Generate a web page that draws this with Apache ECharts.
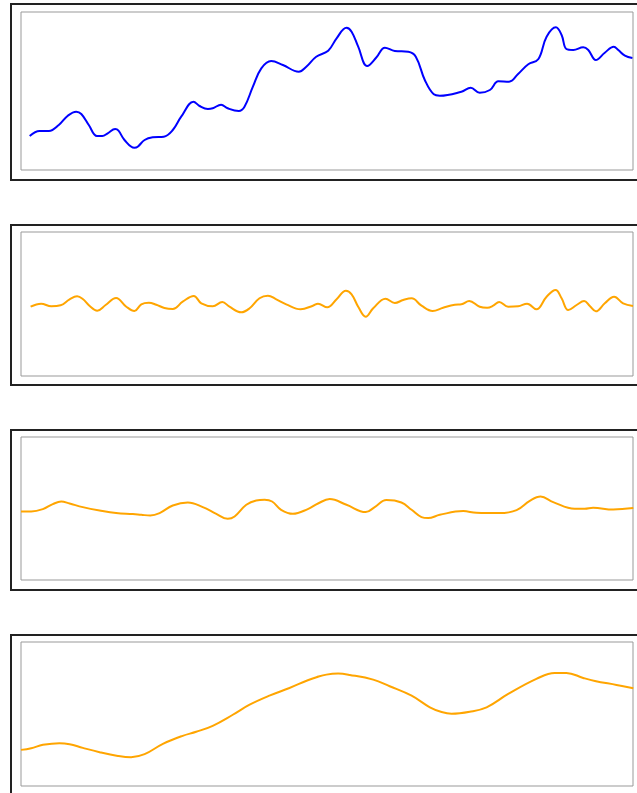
<!DOCTYPE html>
<html>
<head>
<meta charset="utf-8">
<script src="https://cdn.jsdelivr.net/npm/echarts@6/dist/echarts.min.js"></script>
<style>
html,body{margin:0;padding:0;background:#fff;}
#main{width:637px;height:793px;}
</style>
</head>
<body>
<div id="main"></div>
<script>
// Panel 1: original signal (blue)
var p1X = [2.9,6.2,9.3,12.6,15.6,18.4,20.1,22.6,25.3,27.1,28.9,31.4,32.5,34.5,37.8,38.9,41.2,43.9,47.6,50.6,53.4,57.5,59.5,62.3,63.9,66.7,68.9,72.6,74.5,77.3,80.1,83.4,87.3,92.6,95.1,98.4,102.4,105.2,108.5,110.2,112.4,115.4,118.5,121.3,124.6,129.1,131.6,134.6,137.6,139.6,146.8,149.9,152.9,156.3,159.1,162.7,165.7,169.1,172.4,175.2,178.3,180.2,181.8,184.1,187.4,189.1,191.6,194.6,197.6,199.1,201.3,203.8];
var p1Y = [34,39,39,45,54.3,58.3,56,45,34,34,36.7,41,39.3,30,22.3,23.3,30,32.7,33.3,40,53.3,68.3,64,61,61.7,65.3,61.7,59,63.3,83.3,101.7,109,105,98.3,103.3,113.3,119.3,131.7,142.3,138.3,123.3,104,112.7,122.3,119,118.3,113.3,90,75.7,74.3,78.3,82.3,77.3,80,88.7,88.3,96,105.7,110.7,133.3,142.7,135,121,120,122.7,120,110,117.3,123.3,120,114.3,112];

// Panel 2: high-frequency component
var p2X = [3.2,6.7,10.1,13.2,16.2,18.7,20.6,22.8,25.4,28.2,31.7,35.1,37.8,40.1,42.6,45.1,47.8,50.6,53.9,57.6,60.1,63.9,67.1,69.5,73.4,76.2,79.5,82.3,85.1,88.4,93.2,97.3,99,102.1,105.2,108.3,110.2,112.4,114.9,117.4,121.5,124.6,127.4,130.2,133.5,137.2,140.7,144.6,146.8,149.4,152.9,155.4,157.4,159.4,162.4,165.7,168.7,171.8,175.2,178.2,180.2,182.4,185.2,187.7,189.6,191.6,194.6,197.7,200.7,204];
var p2Y = [-2.7,0.3,-2.3,-1.3,4.7,7.7,5,-1.7,-6.7,-1,6,-2.7,-7,-0.3,1.3,-0.7,-4,-5,2.3,8,0.7,-2.3,2,-2.7,-8.3,-4.3,5.7,8.3,4.7,-0.3,-5.3,-1.7,0.3,-3.3,4.7,13.3,9.7,-2.7,-12.7,-4.3,5.3,1,4,5.7,-1.7,-7,-3.7,-0.7,-0.3,3,-2.7,-3.7,-1.7,2,-2.7,-2.3,0.3,-5.3,7.3,14,5.7,-6,-1,3,-2,-7.3,0.7,7.3,0.7,-2];

// Panel 3: mid-frequency component
var p3X = [0,3.4,7.3,10.6,13.4,16.2,20.6,26.2,31.7,37.3,40.1,43.1,46.2,50.6,55.6,60.6,65.1,68.9,71.2,75.1,78.4,81.2,83.7,86.7,90.6,95.6,99,102.9,108.5,114.9,117.9,121.8,126.8,130.2,133.5,135.7,139.6,147.4,151.8,159.6,165.2,169.6,173.2,177.4,184.6,187.9,190.7,197.4,204.1];
var p3Y = [-3,-3,-0.6,4.4,7,5,1.4,-2,-4.6,-5.6,-6.3,-7,-4.6,3,6,1.4,-5.3,-10.3,-8,3.7,8,8.7,7,-1.3,-5.3,-0.6,5,9.4,3.7,-3.6,1.4,8.4,6,-1.3,-8.6,-9.6,-6.3,-2.6,-4.3,-4.6,-1.6,7.7,12,6.4,-0.3,-0.3,0.7,-1,0.4];

// Panel 4: trend component
var p4X = [0,3.4,7.3,12.8,16.2,20.6,26.2,32.3,36.7,41.2,47.3,53.9,58.4,63.9,70.6,76.2,82.8,89.5,95.6,98.5,101.8,105.7,109.6,117.4,122.9,130.2,136.3,140.2,143.5,149.6,155.2,162.4,171.8,177.9,181.8,187.4,191.3,198.5,204.1];
var p4Y = [36,37.7,41,42.7,41.7,38,33.7,30,28.7,31.7,42,50,54,60,71,81,90,97.7,105.4,108.4,111,112,110.7,106,99.4,90,78.4,73.7,72,74,78.4,91.7,106.7,112.7,112.7,107.7,104.7,100.7,97.4];

// y ranges per panel
var yRanges = [[0,158],[-72,72],[-71.5,71.5],[0,143.5]];
var xRange = [0,204];

function zip(xs, ys){ return xs.map(function(x,i){ return [x, ys[i]]; }); }

var gridTops = [12, 232, 437, 642];
var gridHeights = [158, 144, 143, 144];
var outer = [[10,3,176],[10,224,160],[10,429,160],[10,634,170]];

var grids = [], xAxes = [], yAxes = [];
for (var i = 0; i < 4; i++) {
  grids.push({left:21, top:gridTops[i], width:612, height:gridHeights[i], show:true, borderColor:'#999', borderWidth:1, backgroundColor:'transparent'});
  xAxes.push({type:'value', gridIndex:i, min:xRange[0], max:xRange[1], show:false});
  yAxes.push({type:'value', gridIndex:i, min:yRanges[i][0], max:yRanges[i][1], show:false});
}

var seriesData = [zip(p1X,p1Y), zip(p2X,p2Y), zip(p3X,p3Y), zip(p4X,p4Y)];
var colors = ['#0000ff','#ffa500','#ffa500','#ffa500'];
var widths = [2, 2, 2, 2];
var series = seriesData.map(function(d,i){
  return {type:'line', xAxisIndex:i, yAxisIndex:i, data:d, smooth:0.4, showSymbol:false, symbol:'none',
    lineStyle:{color:colors[i], width:widths[i]}, animation:false, silent:true};
});

var graphics = outer.map(function(o){
  return {type:'rect', left:o[0], top:o[1], shape:{width:650, height:o[2]}, style:{fill:'transparent', stroke:'#222', lineWidth:2}, silent:true, z:0};
});

var chart = echarts.init(document.getElementById('main'), null, {renderer:'canvas'});
chart.setOption({
  animation:false,
  backgroundColor:'#fff',
  grid:grids, xAxis:xAxes, yAxis:yAxes, series:series,
  graphic:graphics
});
</script>
</body>
</html>
